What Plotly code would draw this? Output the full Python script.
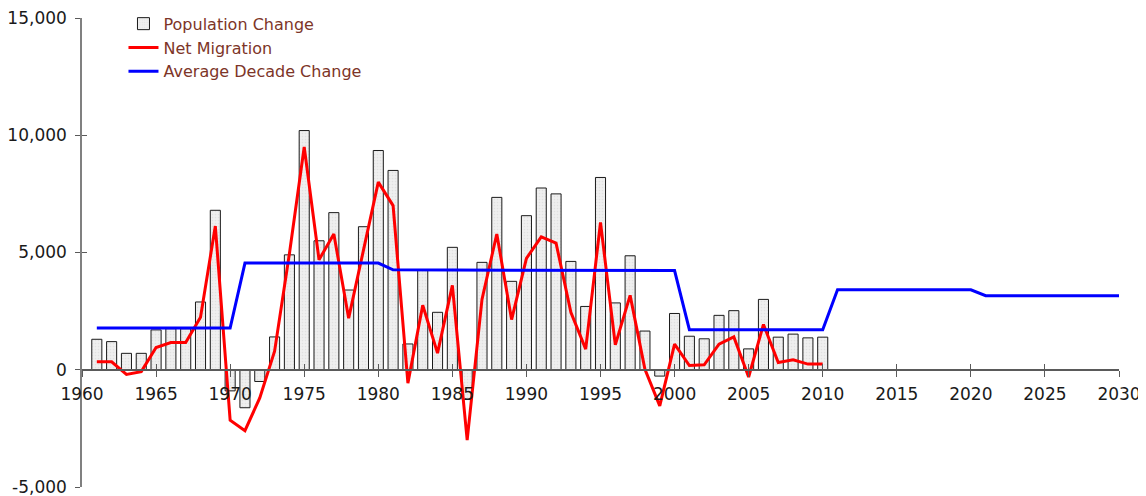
import plotly.graph_objects as go

years = list(range(1961, 2011))
pop_change = [1300, 1200, 700, 700, 1700, 1750, 1750, 2890, 6800, -900,
              -1620, -500, 1400, 4900, 10200, 5500, 6700, 3400, 6100, 9350,
              8500, 1100, 4250, 2450, 5220, -1270, 4580, 7350, 3770, 6570,
              7750, 7500, 4620, 2700, 8200, 2850, 4860, 1650, -270, 2400,
              1430, 1320, 2320, 2520, 890, 3000, 1390, 1520, 1360, 1390]
net_migration = [340, 340, -200, -80, 950, 1160, 1160, 2240, 6130, -2150,
                 -2600, -1200, 790, 4950, 9500, 4690, 5790, 2200, 5100, 8000,
                 7000, -570, 2750, 710, 3600, -3000, 3000, 5790, 2140, 4750,
                 5670, 5400, 2450, 880, 6280, 1060, 3170, 20, -1540, 1090,
                 180, 210, 1090, 1400, -310, 1930, 310, 425, 240, 240]
avg_years = [1961, 1970, 1971, 1980, 1981, 1990, 1991, 2000, 2001, 2010, 2011, 2020, 2021, 2030]
avg_values = [1780, 1780, 4550, 4550, 4260, 4260, 4230, 4230, 1710, 1710, 3410, 3410, 3160, 3160]

x_ticks = list(range(1960, 2031, 5))
y_ticks = [-5000, 0, 5000, 10000, 15000]
y_labels = ["-5,000", "0", "5,000", "10,000", "15,000"]

FONT = "DejaVu Sans"
AXIS_COLOR = "#5a5a5a"

fig = go.Figure()
fig.add_trace(go.Bar(
    x=years, y=pop_change, name="Population Change", width=0.68,
    marker=dict(color="#ececec", line=dict(color="#1a1a1a", width=1),
                pattern=dict(shape=".", fgcolor="#d4d4d4", bgcolor="#efefef", size=3, solidity=0.25)),
))
fig.add_trace(go.Scatter(
    x=years, y=net_migration, name="Net Migration", mode="lines",
    line=dict(color="#ff0000", width=3),
))
fig.add_trace(go.Scatter(
    x=avg_years, y=avg_values, name="Average Decade Change", mode="lines",
    line=dict(color="#0000ff", width=3),
))

# the page body adds an 8px offset, so the figure is 8px smaller
fig.update_layout(
    width=1138, height=488,
    margin=dict(l=74, r=27, t=10, b=9, autoexpand=False),
    paper_bgcolor="white", plot_bgcolor="white",
    font=dict(family=FONT, size=17, color="#1a1a1a"),
    showlegend=True,
    legend=dict(x=0.04, y=1.024, xanchor="left", yanchor="top",
                font=dict(family=FONT, size=16, color="#7d3528"),
                bgcolor="rgba(0,0,0,0)", tracegroupgap=0, itemwidth=30),
    xaxis=dict(range=[1960, 2030], tickvals=x_ticks, ticktext=[str(v) for v in x_ticks],
               anchor="free", position=0.25, showgrid=False, zeroline=False,
               showline=True, linecolor=AXIS_COLOR, linewidth=1.5,
               ticks="outside", ticklen=6, tickcolor=AXIS_COLOR, tickwidth=1.2,
               ticklabelstandoff=3, ticklabeloverflow="allow"),
    xaxis2=dict(range=[1960, 2030], tickvals=x_ticks, overlaying="x", anchor="free", position=0.25,
                showgrid=False, zeroline=False, showline=False, showticklabels=False,
                ticks="inside", ticklen=6, tickcolor=AXIS_COLOR, tickwidth=1.2),
    yaxis=dict(range=[-5000, 15000], tickvals=y_ticks, ticktext=y_labels,
               showgrid=False, zeroline=False, showline=True, linecolor="#808080", linewidth=1.5,
               ticks="outside", ticklen=5, tickcolor=AXIS_COLOR, tickwidth=1.2,
               ticklabelstandoff=5, ticklabeloverflow="allow"),
    yaxis2=dict(range=[-5000, 15000], tickvals=y_ticks, overlaying="y", anchor="x",
                showgrid=False, zeroline=False, showline=False, showticklabels=False,
                ticks="inside", ticklen=5, tickcolor=AXIS_COLOR, tickwidth=1.2),
)
fig.add_trace(go.Scatter(x=[], y=[], xaxis="x2", yaxis="y2", showlegend=False, hoverinfo="skip"))

fig.write_html("out.html")
